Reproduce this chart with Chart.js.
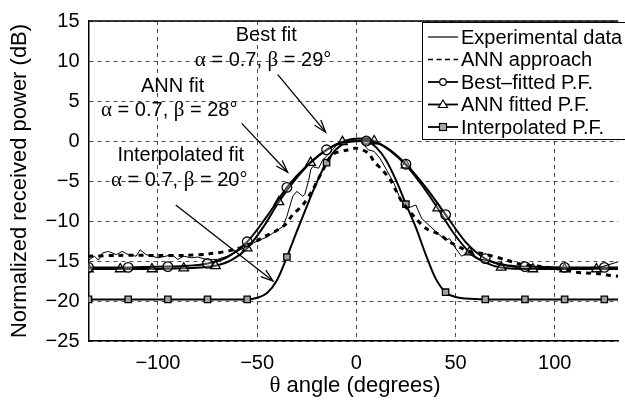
<!DOCTYPE html>
<html><head><meta charset="utf-8">
<script src="https://cdn.jsdelivr.net/npm/chart.js@4"></script>
<style>html,body{margin:0;padding:0;background:#fff}canvas{display:block}</style>
</head><body><canvas id="c" width="625" height="400"></canvas>
<script>
// ---- data ----
const xTicks = [-100, -50, 0, 50, 100];
const yTicks = [-25, -20, -15, -10, -5, 0, 5, 10, 15];

const expX = [-135,-132,-130,-128,-125,-121,-118,-115,-111,-109,-106,-103,-100,-96,-93,-90,-87,-83,-80,-75,-70,-65,-60,-57,-50,-45,-42,-37,-35,-32,-30,-27,-26,-24,-23,-22,-19,-17,-12,-9,-4,1,6,9,12,15,19,22,25,28,30,33,40,45,47,50,53,56,60,65,72,78,85,91,98,105,111,118,124,132];
const expY = [-14.9,-14.4,-14.9,-14.0,-13.8,-14.2,-13.8,-14.2,-14.4,-13.6,-14.2,-14.4,-14.6,-14.4,-14.2,-14.8,-14.4,-14.6,-14.5,-14.85,-14.8,-14.4,-13.8,-13.4,-12.5,-12.0,-11.5,-10.7,-9.4,-6.9,-6.3,-6.9,-6.7,-4.9,-3.6,-3.2,-3.4,-2.4,-1.1,-0.3,0.1,0.3,-1.1,-1.3,-2.2,-3.5,-5.3,-7.2,-8.4,-8.2,-8.0,-9.7,-11.3,-12.4,-12.2,-13.4,-14.4,-14.0,-14.6,-14.9,-15.5,-15.7,-16.0,-15.9,-16.0,-16.0,-15.8,-16.0,-15.7,-15.1];

const annX = [-135,-120,-100,-86,-74,-62,-51,-46,-41,-36,-32,-27,-22,-18,-12,-4,0,6,9,13,17,20,23,30,35,42,47,53,58,64,76,81,93,105,111,116,123,128,132];
const annY = [-14.4,-14.3,-14.3,-14.3,-14.1,-13.6,-12.6,-11.9,-11.3,-10.5,-9.2,-8.0,-6.1,-4.2,-1.7,-1.1,-0.9,-1.5,-2.6,-3.6,-4.8,-6.2,-7.6,-9.7,-10.9,-11.7,-12.6,-13.4,-13.9,-14.1,-14.9,-15.3,-15.7,-16.1,-16.4,-16.5,-16.6,-16.8,-16.9];

const bestX = [-135,-115,-95,-85,-75,-65,-55,-45,-35,-25,-15,-5,5,15,25,35,45,55,65,75,85,105,125,132];
const bestY = [-15.8,-15.8,-15.7,-15.6,-15.3,-14.5,-12.6,-9.4,-5.8,-3.1,-1.1,-0.1,0,-0.8,-2.9,-5.8,-9.2,-12.6,-14.7,-15.5,-15.7,-15.8,-15.8,-15.8];
const bestMarkX = [-135,-115,-95,-75,-55,-35,-15,5,25,45,65,85,105,125];

const annFitX = [-135,-119,-103,-87,-79,-71,-63,-55,-47,-39,-31,-23,-15,-7,1,9,17,25,33,41,49,57,65,73,89,105,121,132];
const annFitY = [-16,-16,-16,-15.9,-15.8,-15.6,-14.9,-13.4,-10.8,-7.6,-4.9,-2.7,-1.1,-0.1,0.3,0,-1.2,-3.0,-5.5,-8.4,-11.5,-13.9,-15.2,-15.8,-16,-16,-16,-16];
const annFitMarkX = [-135,-119,-103,-87,-71,-55,-39,-23,-7,9,25,41,57,73,89,105,121];

const interpX = [-135,-115,-95,-75,-55,-50,-45,-40,-35,-30,-25,-20,-15,-10,-5,0,5,10,15,20,25,30,35,40,45,50,55,65,85,105,125,132];
const interpY = [-19.8,-19.8,-19.8,-19.8,-19.8,-19.6,-19.0,-17.4,-14.5,-11.3,-8.2,-5.2,-2.7,-1.0,-0.2,0,0,-0.8,-2.4,-4.9,-7.9,-10.8,-14.2,-17.2,-18.9,-19.5,-19.7,-19.8,-19.8,-19.8,-19.8,-19.8];
const interpMarkX = [-135,-115,-95,-75,-55,-35,-15,5,25,45,65,85,105,125];

const seriesNames = ['Experimental data','ANN approach','Best\u2013fitted P.F.','ANN fitted P.F.','Interpolated P.F.'];

const SANS = '"Liberation Sans", Arial, sans-serif';
const SERIF = '"Liberation Serif", "Times New Roman", serif';

function pts(xs, ys){ return xs.map((x,i)=>({x:x, y:ys[i]})); }
function radii(xs, marks, r){ return xs.map(x => marks.includes(x) ? r : 0); }

function drawMixed(ctx, parts, cx, cy){
  let w = 0;
  parts.forEach(p => { ctx.font = p[1]; w += ctx.measureText(p[0]).width; });
  let x = cx - w/2;
  ctx.textBaseline = 'middle'; ctx.textAlign = 'left';
  parts.forEach(p => { ctx.font = p[1]; ctx.fillText(p[0], x, cy); x += ctx.measureText(p[0]).width; });
}
function arrow(ctx, x1, y1, x2, y2){
  ctx.beginPath(); ctx.moveTo(x1,y1); ctx.lineTo(x2,y2); ctx.stroke();
  const a = Math.atan2(y2-y1, x2-x1), L = 13, s = 0.32;
  ctx.beginPath();
  ctx.moveTo(x2 - L*Math.cos(a-s), y2 - L*Math.sin(a-s));
  ctx.lineTo(x2, y2);
  ctx.lineTo(x2 - L*Math.cos(a+s), y2 - L*Math.sin(a+s));
  ctx.stroke();
}

const overlay = {
  id: 'overlay',
  afterDraw(chart){
    const ctx = chart.ctx, a = chart.chartArea, xs = chart.scales.x, ys = chart.scales.y;
    ctx.save();
    // top border
    ctx.strokeStyle = '#000'; ctx.lineWidth = 1.5; ctx.setLineDash([]);
    ctx.beginPath(); ctx.moveTo(a.left, a.top); ctx.lineTo(a.right, a.top); ctx.stroke();

    // annotations
    ctx.fillStyle = '#000';
    const f = '20px ' + SANS, g = '21px ' + SERIF;
    const T = (s, x, y) => drawMixed(ctx, [[s, f]], xs.getPixelForValue(x), ys.getPixelForValue(y));
    const AB = (b, x, y) => drawMixed(ctx, [['\u03b1', g], [' = 0.7, ', f], ['\u03b2', g], [' = ' + b + '\u00b0', f]], xs.getPixelForValue(x), ys.getPixelForValue(y));
    T('Best fit', -45.4, 13.2); AB(29, -47, 10.1);
    T('ANN fit', -92.6, 6.8); AB(28, -94.3, 3.8);
    T('Interpolated fit', -88.5, -1.8); AB(20, -89.3, -4.9);
    ctx.lineWidth = 1.3;
    const A = (x1,y1,x2,y2) => arrow(ctx, xs.getPixelForValue(x1), ys.getPixelForValue(y1), xs.getPixelForValue(x2), ys.getPixelForValue(y2));
    A(-39.6, 8.3, -15.5, 1.1);
    A(-57.8, 2.2, -34.6, -3.9);
    A(-91, -8.0, -42, -17.5);

    // legend
    const lx = 422, ly = 22;
    ctx.fillStyle = '#fff'; ctx.fillRect(lx, ly, 215, 118);
    ctx.strokeStyle = '#000'; ctx.lineWidth = 1; ctx.strokeRect(lx + 0.5, ly + 0.5, 215, 117);
    const rows = [37, 59.5, 82, 104.5, 127];
    ctx.font = '20px ' + SANS; ctx.textBaseline = 'middle'; ctx.textAlign = 'left'; ctx.fillStyle = '#000';
    rows.forEach((ry, i) => {
      ctx.save();
      ctx.strokeStyle = '#000';
      ctx.lineWidth = i === 0 ? 1.2 : (i === 1 ? 1.3 : 1.8);
      ctx.setLineDash(i === 1 ? [5, 3.5] : []);
      ctx.beginPath(); ctx.moveTo(428, ry); ctx.lineTo(458, ry); ctx.stroke();
      ctx.setLineDash([]); ctx.lineWidth = 1.2;
      if (i === 2){ ctx.beginPath(); ctx.arc(443, ry, 3.3, 0, 2*Math.PI); ctx.fillStyle='#fff'; ctx.fill(); ctx.stroke(); }
      if (i === 3){ ctx.beginPath(); ctx.moveTo(443, ry-4.5); ctx.lineTo(447.5, ry+3); ctx.lineTo(438.5, ry+3); ctx.closePath(); ctx.fillStyle='#fff'; ctx.fill(); ctx.stroke(); }
      if (i === 4){ ctx.fillStyle='#aaa'; ctx.fillRect(439.5, ry-3.5, 7, 7); ctx.strokeRect(439.5, ry-3.5, 7, 7); }
      ctx.restore();
      ctx.fillStyle = '#000';
      ctx.fillText(seriesNames[i], 461, ry + 1);
    });

    // axis titles
    ctx.fillStyle = '#000';
    ctx.save();
    ctx.translate(20, (a.top + a.bottom)/2);
    ctx.rotate(-Math.PI/2);
    drawMixed(ctx, [['Normalized received power (dB)', '22px ' + SANS]], 0, 0);
    ctx.restore();
    drawMixed(ctx, [['\u03b8', '23px ' + SERIF], [' angle (degrees)', '22px ' + SANS]], 355, 386);
    ctx.restore();
  }
};

const minus = v => (v < 0 ? '\u2212' + Math.abs(v) : '' + v);

new Chart(document.getElementById('c'), {
  type: 'line',
  data: {
    datasets: [
      { label: seriesNames[0], data: pts(expX, expY), borderColor: '#000', borderWidth: 1, pointRadius: 0, tension: 0 },
      { label: seriesNames[1], data: pts(annX, annY), borderColor: '#000', borderWidth: 3, borderDash: [5, 5], pointRadius: 0, tension: 0.3 },
      { label: seriesNames[2], data: pts(bestX, bestY), borderColor: '#000', borderWidth: 2, tension: 0.4, cubicInterpolationMode: 'monotone',
        pointStyle: 'circle', pointRadius: radii(bestX, bestMarkX, 4.8), pointBorderColor: '#000', pointBackgroundColor: 'rgba(255,255,255,0.3)', pointBorderWidth: 1.3 },
      { label: seriesNames[3], data: pts(annFitX, annFitY), borderColor: '#000', borderWidth: 2, tension: 0.4, cubicInterpolationMode: 'monotone',
        pointStyle: 'triangle', pointRadius: radii(annFitX, annFitMarkX, 5.5), pointBorderColor: '#000', pointBackgroundColor: 'rgba(255,255,255,0.3)', pointBorderWidth: 1.3 },
      { label: seriesNames[4], data: pts(interpX, interpY), borderColor: '#000', borderWidth: 2, tension: 0.4, cubicInterpolationMode: 'monotone',
        pointStyle: 'rect', pointRadius: radii(interpX, interpMarkX, 4.5), pointBorderColor: '#000', pointBackgroundColor: '#a0a0a0', pointBorderWidth: 1.3 }
    ]
  },
  options: {
    responsive: false, animation: false,
    layout: { padding: { top: 21, right: 0, left: 0, bottom: 0 } },
    plugins: { legend: { display: false }, tooltip: { enabled: false } },
    scales: {
      x: {
        type: 'linear', min: -135, max: 132,
        afterBuildTicks: s => { s.ticks = xTicks.map(v => ({ value: v })); },
        afterFit: s => { s.height = 59; },
        grid: { color: 'rgba(0,0,0,0.7)', lineWidth: 1, drawTicks: false },
        border: { display: true, color: '#000', width: 1.5, dash: [4, 4] },
        ticks: { color: '#000', font: { family: SANS, size: 20 }, padding: 10, callback: minus, maxRotation: 0 }
      },
      y: {
        type: 'linear', min: -25, max: 15,
        afterBuildTicks: s => { s.ticks = yTicks.map(v => ({ value: v })); },
        afterFit: s => { s.width = 88.5; },
        grid: { color: 'rgba(0,0,0,0.7)', lineWidth: 1, drawTicks: false },
        border: { display: true, color: '#000', width: 1.5, dash: [4, 4] },
        ticks: { color: '#000', font: { family: SANS, size: 20 }, padding: 9, callback: minus }
      }
    }
  },
  plugins: [overlay]
});
</script>
</body></html>
